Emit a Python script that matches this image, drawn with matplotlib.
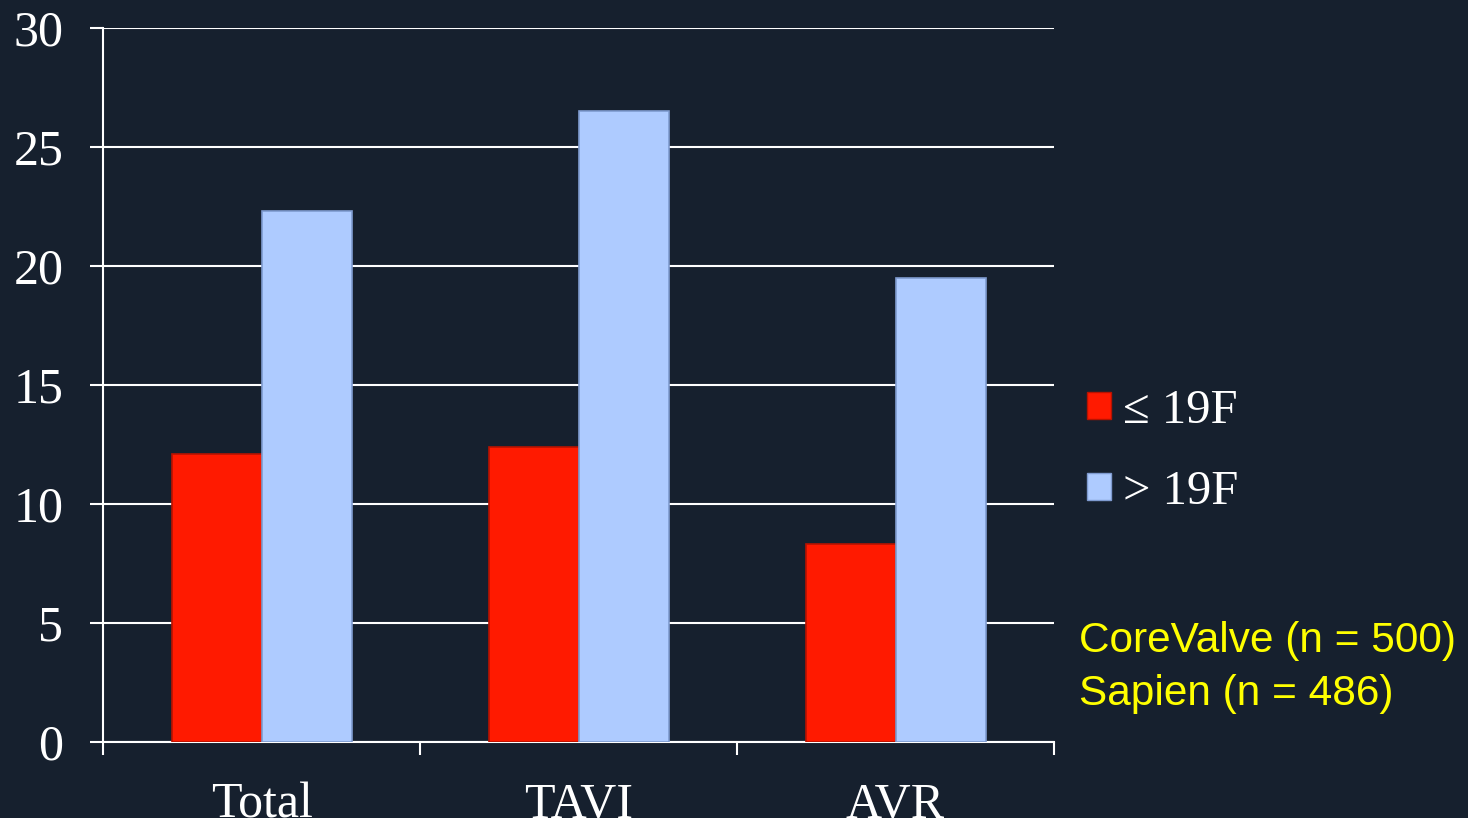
import numpy as np
import matplotlib
matplotlib.use("Agg")
import matplotlib.pyplot as plt
from matplotlib.patches import Patch

# === Data
categories = ["Total", "TAVI", "AVR"]
small_sheath = [12.1, 12.4, 8.3]    # <= 19F
large_sheath = [22.3, 26.5, 19.5]   # > 19F
series_labels = ["\u2264 19F", "> 19F"]
y_ticks = [0, 5, 10, 15, 20, 25, 30]
notes = ["CoreValve (n = 500)", "Sapien (n = 486)"]

# === Style
bg = "#16202e"
red = "#ff1a00"
red_edge = "#b81200"
blue = "#aecbff"
blue_edge = "#7f9bd0"
serif = ["Liberation Serif", "DejaVu Serif"]

fig = plt.figure(figsize=(14.68, 8.18), dpi=100, facecolor=bg)
ax = fig.add_axes([0.0702, 0.0929, 0.6478, 0.8729], facecolor=bg)

x = np.arange(len(categories))
w = 0.284
ax.bar(x - w / 2, small_sheath, w, color=red, edgecolor=red_edge, linewidth=1.2, zorder=3)
ax.bar(x + w / 2, large_sheath, w, color=blue, edgecolor=blue_edge, linewidth=1.2, zorder=3)

ax.set_xlim(-0.5, len(categories) - 0.5)
ax.set_ylim(0, 30)
ax.set_yticks(y_ticks)
ax.set_yticklabels([str(t) for t in y_ticks], family=serif, fontsize=36, color="white")
ax.yaxis.grid(True, color="white", linewidth=1.5, zorder=0)
ax.set_axisbelow(True)

# category labels at centres, tick marks at the boundaries
ax.set_xticks(x)
ax.set_xticklabels(categories, family=serif, fontsize=36, color="white")
ax.set_xticks(np.arange(-0.5, len(categories)), minor=True)
ax.tick_params(axis="x", which="major", length=0, pad=29)
ax.tick_params(axis="x", which="minor", length=9.5, width=1.5, color="white", direction="out")
ax.tick_params(axis="y", length=9.5, width=1.5, color="white", direction="out", pad=19)

for side in ["top", "right"]:
    ax.spines[side].set_visible(False)
for side in ["left", "bottom"]:
    ax.spines[side].set_color("white")
    ax.spines[side].set_linewidth(1.5)

handles = [Patch(facecolor=red, edgecolor=red_edge),
           Patch(facecolor=blue, edgecolor=blue_edge)]
fig.legend(handles, series_labels, loc="upper left", bbox_to_anchor=(0.711, 0.578),
           frameon=False, prop={"family": serif, "size": 35}, labelcolor="white",
           handlelength=0.48, handleheight=0.48, handletextpad=0.25, labelspacing=0.76)

fig.text(0.735, 0.216, notes[0], color="#ffff00", fontsize=30.5,
         family=["Liberation Sans", "DejaVu Sans"], va="center")
fig.text(0.735, 0.151, notes[1], color="#ffff00", fontsize=30.5,
         family=["Liberation Sans", "DejaVu Sans"], va="center")

fig.savefig("out.png", dpi=100, facecolor=bg)
